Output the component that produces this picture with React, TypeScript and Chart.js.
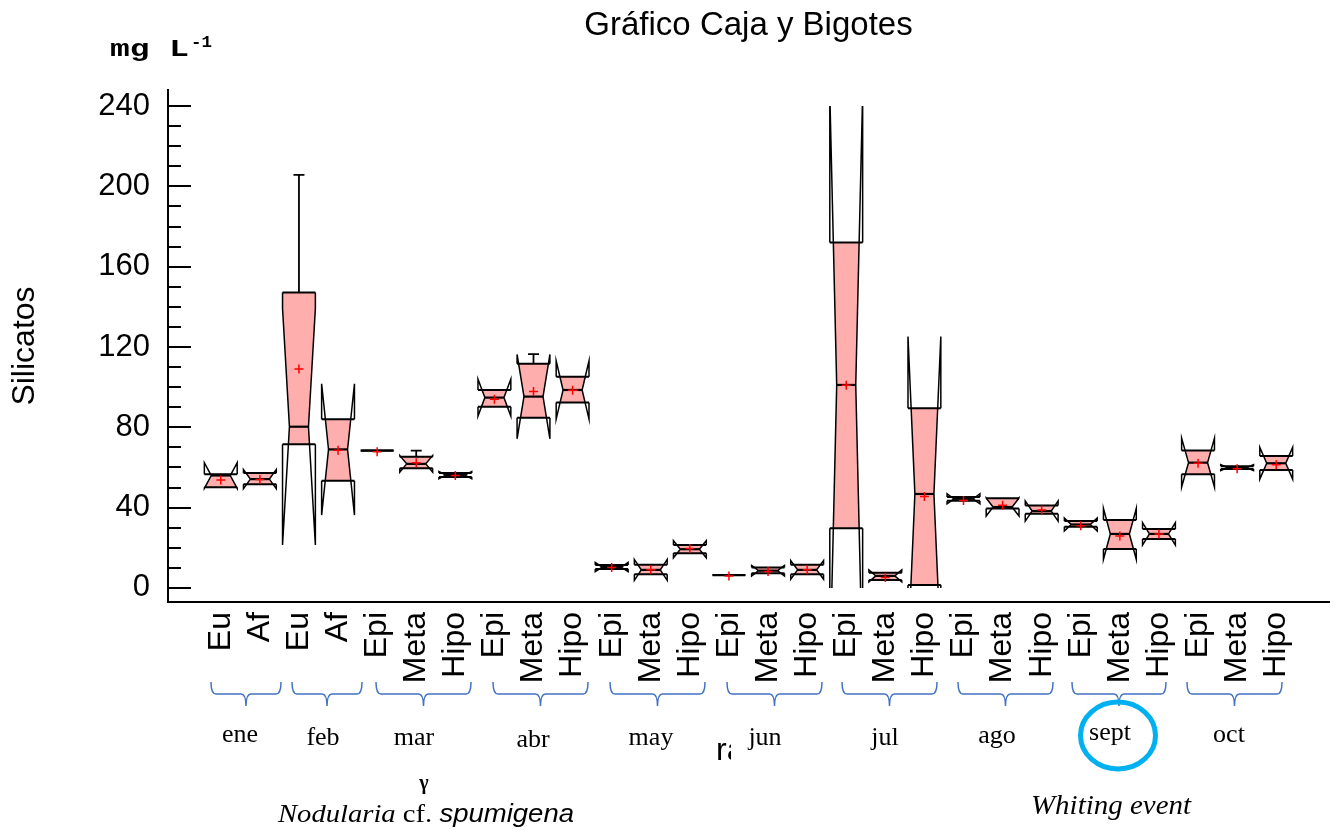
import { useEffect, useRef } from 'react';
import { Chart, registerables } from 'chart.js';

Chart.register(...registerables);

// ---------- data ----------
const categories = [
  'Eu', 'Af', 'Eu', 'Af',
  'Epi', 'Meta', 'Hipo', 'Epi', 'Meta', 'Hipo', 'Epi', 'Meta', 'Hipo', 'Epi', 'Meta', 'Hipo',
  'Epi', 'Meta', 'Hipo', 'Epi', 'Meta', 'Hipo', 'Epi', 'Meta', 'Hipo', 'Epi', 'Meta', 'Hipo',
];
const q1Values = [
  50.1, 51.6, 71.6, 53.4, 68.4, 59.6, 55.3, 90.3, 84.8, 92.3, 9.4, 6.8, 17.3, 6.4,
  7.3, 6.8, 29.7, 4.0, 1.5, 43.4, 39.6, 36.9, 30.5, 19.4, 24.4, 56.6, 59.3, 58.8,
];
const medianValues = [
  56.0, 54.2, 80.3, 69.0, 68.4, 61.8, 56.2, 94.8, 95.3, 98.6, 10.4, 9.0, 19.3, 6.4,
  8.6, 9.0, 101.1, 6.0, 46.8, 44.4, 40.3, 38.3, 31.6, 26.9, 26.9, 62.4, 59.9, 62.1,
];
const q3Values = [
  56.6, 57.3, 147.2, 84.0, 68.4, 65.4, 57.3, 98.6, 111.6, 105.2, 11.4, 11.5, 21.4, 6.4,
  10.2, 11.5, 172.0, 7.6, 89.5, 45.3, 44.7, 41.0, 33.3, 33.9, 29.4, 68.4, 60.6, 65.7,
];
const notchHalfValues = [
  6.4, 4.8, 58.9, 32.7, 0, 4.1, 1.8, 9.2, 21.0, 14.5, 2.3, 5.2, 4.3, 0,
  2.6, 4.7, 145, 3.0, 78.4, 2.5, 4.5, 5.0, 3.2, 12.7, 5.6, 12.2, 1.5, 7.9,
];
const minValues = [
  50.1, 51.6, 71.6, 53.4, 68.4, 59.6, 55.3, 90.3, 84.8, 92.3, 9.4, 6.8, 17.3, 6.4,
  7.3, 6.8, 29.7, 4.0, 1.5, 43.4, 39.6, 36.9, 30.5, 19.4, 24.4, 56.6, 59.3, 58.8,
];
const maxValues = [
  56.6, 57.3, 205.7, 84.0, 68.4, 68.4, 57.3, 98.6, 116.5, 105.2, 11.4, 11.5, 21.4, 6.4,
  10.2, 11.5, 172.0, 7.6, 89.5, 45.3, 44.7, 41.0, 33.3, 33.9, 29.4, 68.4, 60.6, 65.7,
];
const meanValues = [
  53.8, 54.0, 109.0, 68.6, 67.8, 62.4, 56.0, 94.0, 97.8, 98.4, 10.2, 9.0, 19.6, 6.0,
  8.2, 9.0, 101.0, 5.2, 45.5, 43.6, 41.2, 38.8, 31.0, 25.9, 26.9, 62.1, 59.4, 61.3,
];
const yTickValues = [0, 40, 80, 120, 160, 200, 240];
const monthLabels = ['ene', 'feb', 'mar', 'abr', 'may', 'jun', 'jul', 'ago', 'sept', 'oct'];

// ---------- annotation layout (pasted-on graphics of the reference) ----------
const braceSpans = [
  [211, 281], [292, 362], [376, 471], [493, 588], [610, 705],
  [727, 822], [842, 937], [958, 1053], [1072, 1166], [1187, 1282],
];
const monthPositions = [
  [240, 742], [323, 745], [414, 745], [533, 747], [651, 745],
  [765, 745], [885, 745], [997, 743], [1110, 740], [1229, 742],
];

const SANS = "'Liberation Sans', Arial, sans-serif";
const SERIF = "'Liberation Serif', 'Times New Roman', serif";
const MONO = "'Liberation Mono', 'Courier New', monospace";
const FILL = 'rgb(255,174,174)';

function fitText(ctx: CanvasRenderingContext2D, parts: { text: string; font: string }[], x: number, baseline: number, targetW: number) {
  let total = 0;
  for (const p of parts) { ctx.font = p.font; total += ctx.measureText(p.text).width; }
  const s = targetW / total;
  ctx.save();
  ctx.translate(x, baseline);
  ctx.scale(s, 1);
  ctx.textAlign = 'left';
  ctx.textBaseline = 'alphabetic';
  let cur = 0;
  for (const p of parts) { ctx.font = p.font; ctx.fillText(p.text, cur, 0); cur += ctx.measureText(p.text).width; }
  ctx.restore();
}

const boxPlugin = {
  id: 'notchedBoxes',
  beforeDatasetsDraw(chart: any) {
    const { ctx, chartArea } = chart;
    const x = chart.scales.x;
    const y = chart.scales.y;
    const py = (v: number) => y.getPixelForValue(v);
    const step = x.getPixelForValue(1) - x.getPixelForValue(0);
    const hw = step * 0.42;
    const d = hw * 2 * 0.21;
    ctx.save();
    const top = py(240), bot = py(0);
    ctx.beginPath();
    ctx.rect(chartArea.left, top, chartArea.right - chartArea.left, bot - top);
    ctx.clip();
    ctx.strokeStyle = '#000';
    ctx.lineJoin = 'miter';
    for (let i = 0; i < categories.length; i++) {
      const cx = x.getPixelForValue(i);
      const L = cx - hw, R = cx + hw;
      const q1 = q1Values[i], med = medianValues[i], q3 = q3Values[i], h = notchHalfValues[i];
      const nU = med + h, nL = med - h;
      const inset = (v: number) => {
        if (h <= 0) return 0;
        if (v >= med) return v >= nU ? 0 : (d * (nU - v)) / h;
        return v <= nL ? 0 : (d * (v - nL)) / h;
      };
      const levels: number[] = [q3];
      if (nU < q3 && nU > q1) levels.push(nU);
      if (med < q3 && med > q1) levels.push(med);
      if (nL < q3 && nL > q1) levels.push(nL);
      levels.push(q1);

      // fill
      ctx.beginPath();
      levels.forEach((v, k) => {
        const px = L + inset(v);
        if (k) ctx.lineTo(px, py(v)); else ctx.moveTo(px, py(v));
      });
      for (let k = levels.length - 1; k >= 0; k--) ctx.lineTo(R - inset(levels[k]), py(levels[k]));
      ctx.closePath();
      ctx.fillStyle = FILL;
      ctx.fill();

      // sides
      ctx.lineWidth = 1.5;
      for (const sgn of [1, -1]) {
        const edge = sgn > 0 ? L : R;
        ctx.beginPath();
        levels.forEach((v, k) => {
          const px = edge + sgn * inset(v);
          if (k) ctx.lineTo(px, py(v)); else ctx.moveTo(px, py(v));
        });
        ctx.stroke();
        // notch ears beyond the box
        if (nU > q3) {
          ctx.beginPath();
          ctx.moveTo(edge, py(q3));
          ctx.lineTo(edge, py(nU));
          ctx.lineTo(edge + sgn * inset(q3), py(q3));
          ctx.stroke();
        }
        if (nL < q1) {
          ctx.beginPath();
          ctx.moveTo(edge, py(q1));
          ctx.lineTo(edge, py(nL));
          ctx.lineTo(edge + sgn * inset(q1), py(q1));
          ctx.stroke();
        }
      }

      // quartile lines
      ctx.lineWidth = 2;
      ctx.beginPath();
      ctx.moveTo(L, py(q3)); ctx.lineTo(R, py(q3));
      ctx.moveTo(L, py(q1)); ctx.lineTo(R, py(q1));
      ctx.stroke();

      // median
      ctx.lineWidth = 2.2;
      ctx.beginPath();
      ctx.moveTo(L + inset(med), py(med));
      ctx.lineTo(R - inset(med), py(med));
      ctx.stroke();

      // whiskers
      ctx.lineWidth = 1.8;
      const cap = 5.5;
      if (maxValues[i] > q3) {
        ctx.beginPath();
        ctx.moveTo(cx, py(q3)); ctx.lineTo(cx, py(maxValues[i]));
        ctx.moveTo(cx - cap, py(maxValues[i])); ctx.lineTo(cx + cap, py(maxValues[i]));
        ctx.stroke();
      }
      if (minValues[i] < q1) {
        ctx.beginPath();
        ctx.moveTo(cx, py(q1)); ctx.lineTo(cx, py(minValues[i]));
        ctx.moveTo(cx - cap, py(minValues[i])); ctx.lineTo(cx + cap, py(minValues[i]));
        ctx.stroke();
      }
    }
    ctx.restore();
  },
};

const decorPlugin = {
  id: 'decor',
  afterDraw(chart: any) {
    const { ctx } = chart;
    const y = chart.scales.y;
    const left = chart.chartArea.left;
    ctx.save();
    // inward tick marks on the y axis
    ctx.strokeStyle = '#000';
    ctx.lineWidth = 2;
    ctx.beginPath();
    for (let v = 0; v <= 240; v += 10) {
      const p = Math.round(y.getPixelForValue(v));
      const len = v % 40 === 0 ? 23 : 13;
      ctx.moveTo(left, p);
      ctx.lineTo(left + len, p);
    }
    ctx.stroke();

    ctx.fillStyle = '#000';
    // unit label
    fitText(ctx, [{ text: 'mg L', font: `bold 24px ${MONO}` }], 110, 56, 79);
    fitText(ctx, [{ text: '-1', font: `bold 17px ${MONO}` }], 191, 46.5, 21);

    // braces
    ctx.strokeStyle = '#4472C4';
    ctx.lineWidth = 1.5;
    const yTop = 682, yMid = 694, yTip = 706, r = 5;
    for (const [x1, x2] of braceSpans) {
      const cx = (x1 + x2) / 2;
      ctx.beginPath();
      ctx.moveTo(x1, yTop);
      ctx.quadraticCurveTo(x1, yMid, x1 + r, yMid);
      ctx.lineTo(cx - r, yMid);
      ctx.quadraticCurveTo(cx, yMid, cx, yTip);
      ctx.moveTo(cx, yTip);
      ctx.quadraticCurveTo(cx, yMid, cx + r, yMid);
      ctx.lineTo(x2 - r, yMid);
      ctx.quadraticCurveTo(x2, yMid, x2, yTop);
      ctx.stroke();
    }

    // month labels
    ctx.fillStyle = '#000';
    ctx.font = `26px ${SERIF}`;
    ctx.textAlign = 'center';
    ctx.textBaseline = 'alphabetic';
    monthLabels.forEach((m, k) => ctx.fillText(m, monthPositions[k][0], monthPositions[k][1]));

    // clipped stray text
    ctx.save();
    ctx.beginPath();
    ctx.rect(700, 720, 31, 60);
    ctx.clip();
    ctx.font = `32px ${SANS}`;
    ctx.textAlign = 'left';
    ctx.fillText('ra', 716, 760);
    ctx.restore();

    ctx.font = `bold 20px ${SERIF}`;
    ctx.textAlign = 'center';
    ctx.fillText('γ', 424, 789);

    fitText(ctx, [
      { text: 'Nodularia', font: `italic 26px ${SERIF}` },
      { text: ' cf. ', font: `26px ${SERIF}` },
      { text: 'spumigena', font: `italic 25px ${SANS}` },
    ], 278, 822, 296);
    fitText(ctx, [{ text: 'Whiting event', font: `italic 27px ${SERIF}` }], 1031, 814, 160);

    // circle around "sept"
    ctx.strokeStyle = '#00B0F0';
    ctx.lineWidth = 5;
    ctx.beginPath();
    ctx.ellipse(1118, 735.5, 37.5, 33.5, 0, 0, Math.PI * 2);
    ctx.stroke();
    ctx.restore();
  },
};

export default function App() {
  const ref = useRef<HTMLCanvasElement>(null);
  useEffect(() => {
    document.body.style.margin = '0';
    const canvas = ref.current;
    if (!canvas) return;
    const chart = new Chart(canvas, {
      type: 'scatter',
      data: {
        datasets: [
          {
            data: meanValues.map((m, i) => ({ x: i, y: m })),
            pointStyle: 'cross',
            pointRadius: 4.5,
            pointBorderWidth: 1.5,
            pointBorderColor: '#FF0000',
            pointBackgroundColor: '#FF0000',
            borderColor: '#FF0000',
            backgroundColor: '#FF0000',
            showLine: false,
          } as any,
        ],
      },
      options: {
        responsive: false,
        animation: false,
        devicePixelRatio: 1,
        layout: { padding: 0 },
        plugins: {
          legend: { display: false },
          tooltip: { enabled: false },
          title: {
            display: true,
            text: 'Gráfico Caja y Bigotes',
            fullSize: false,
            color: '#000',
            font: { size: 33, weight: 'normal', family: SANS },
            padding: { top: 6, bottom: 44.4 },
          },
        },
        scales: {
          x: {
            type: 'linear',
            position: 'bottom',
            min: -1.35,
            max: 28.35,
            bounds: 'data',
            grid: { display: false, drawTicks: false },
            border: { display: true, color: '#000', width: 2 },
            afterBuildTicks: (s: any) => { s.ticks = categories.map((_, i) => ({ value: i })); },
            afterFit: (s: any) => { s.height = 228; },
            ticks: {
              autoSkip: false,
              minRotation: 90,
              maxRotation: 90,
              padding: 10,
              color: '#000',
              font: { size: 32, family: SANS },
              callback: (_v: any, idx: number) => categories[idx] ?? '',
            },
          },
          y: {
            type: 'linear',
            min: -7,
            max: 248,
            bounds: 'data',
            grid: { display: false, drawTicks: false },
            border: { display: true, color: '#000', width: 2 },
            afterBuildTicks: (s: any) => { s.ticks = yTickValues.map((v) => ({ value: v })); },
            afterFit: (s: any) => { s.width = 168; },
            ticks: { padding: 18, color: '#000', font: { size: 31, family: SANS } },
            title: {
              display: true,
              text: 'Silicatos',
              color: '#000',
              font: { size: 32, family: SANS },
              padding: { top: 6, bottom: 0 },
            },
          },
        },
      } as any,
      plugins: [boxPlugin, decorPlugin],
    });
    return () => chart.destroy();
  }, []);
  return <canvas ref={ref} width={1335} height={830} style={{ display: 'block' }} />;
}
